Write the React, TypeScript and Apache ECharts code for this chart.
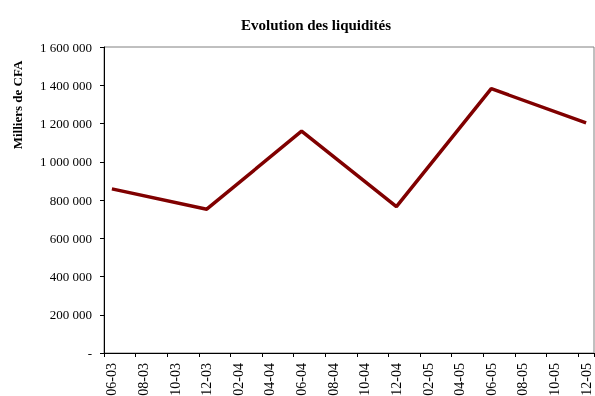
import React, { useEffect, useRef } from "react";
import * as echarts from "echarts";

const months: string[] = [
  "06-03", "07-03", "08-03", "09-03", "10-03", "11-03", "12-03",
  "01-04", "02-04", "03-04", "04-04", "05-04", "06-04", "07-04", "08-04", "09-04", "10-04", "11-04", "12-04",
  "01-05", "02-05", "03-05", "04-05", "05-05", "06-05", "07-05", "08-05", "09-05", "10-05", "11-05", "12-05",
];

const obsDates: string[] = ["06-03", "12-03", "06-04", "12-04", "06-05", "12-05"];
const obsValues: number[] = [858000, 752000, 1160000, 765000, 1382000, 1203000];

const yTicks: number[] = [0, 200000, 400000, 600000, 800000, 1000000, 1200000, 1400000, 1600000];

const fmt = (v: number) => (v === 0 ? "-" : String(Math.round(v)).replace(/\B(?=(\d{3})+(?!\d))/g, " "));

export default function App() {
  const ref = useRef<HTMLDivElement>(null);
  useEffect(() => {
    if (!ref.current) return;
    const chart = echarts.init(ref.current, null, { renderer: "svg" });
    const seriesData = months.map((m) => {
      const i = obsDates.indexOf(m);
      return i >= 0 ? obsValues[i] : null;
    });
    const font = "'Liberation Serif', 'Times New Roman', serif";
    chart.setOption({
      animation: false,
      textStyle: { fontFamily: font },
      title: {
        text: "Evolution des liquidités",
        left: 311,
        textAlign: "center",
        top: 12,
        textStyle: { fontFamily: font, fontSize: 15, fontWeight: "bold", color: "#000" },
      },
      graphic: [
        {
          type: "text",
          x: 17,
          y: 105,
          rotation: Math.PI / 2,
          style: {
            text: "Milliers de CFA",
            fontFamily: font,
            fontSize: 13,
            fontWeight: "bold",
            fill: "#000",
            align: "center",
            verticalAlign: "middle",
          },
        },
      ],
      grid: {
        left: 104,
        right: 1,
        top: 47,
        bottom: 43,
        show: true,
        borderColor: "#808080",
        borderWidth: 1,
        backgroundColor: "transparent",
        containLabel: false,
        outerBoundsMode: "none",
      },
      xAxis: {
        type: "category",
        data: months,
        boundaryGap: true,
        axisLine: { show: true, lineStyle: { color: "#000", width: 1 } },
        axisTick: { show: true, interval: 1, length: 4, inside: false, lineStyle: { color: "#000" } },
        axisLabel: {
          interval: 1,
          rotate: 90,
          margin: 10,
          fontFamily: font,
          fontSize: 14,
          color: "#000",
          hideOverlap: false,
        },
        splitLine: { show: false },
      },
      yAxis: {
        type: "value",
        min: 0,
        max: 1600000,
        interval: 200000,
        axisLine: { show: true, lineStyle: { color: "#000", width: 1 } },
        axisTick: { show: true, length: 4, lineStyle: { color: "#000" } },
        axisLabel: {
          margin: 12,
          fontFamily: font,
          fontSize: 13,
          color: "#000",
          formatter: (v: number) => (yTicks.includes(v) ? fmt(v) : ""),
        },
        splitLine: { show: false },
      },
      series: [
        {
          type: "line",
          data: seriesData,
          connectNulls: true,
          showSymbol: false,
          symbol: "none",
          lineStyle: { color: "#800000", width: 3.5 },
          itemStyle: { color: "#800000" },
        },
      ],
    });
    return () => chart.dispose();
  }, []);
  return <div ref={ref} style={{ position: "fixed", left: 0, top: 0, width: 595, height: 396 }} />;
}
